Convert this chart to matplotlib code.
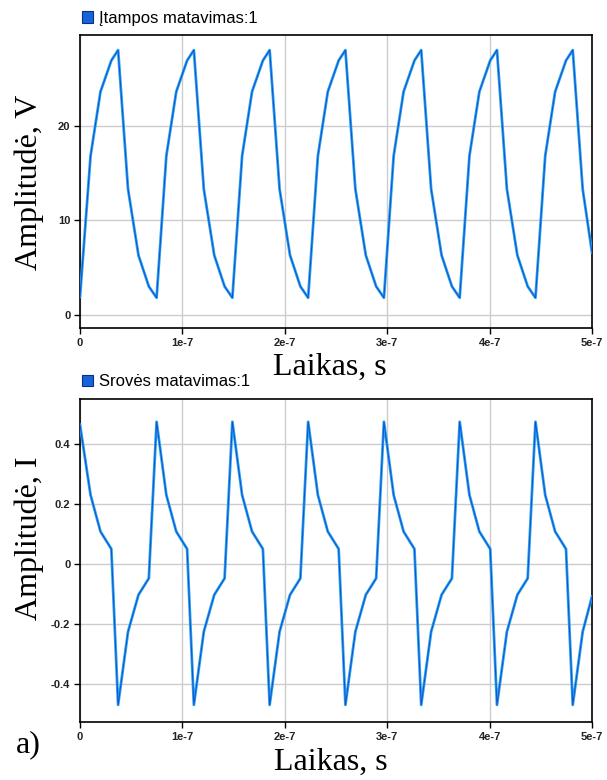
import matplotlib
matplotlib.use("Agg")
import matplotlib.pyplot as plt
from matplotlib.patches import Patch

# time samples, ns (same grid for both measurements)
time_ns = [
    0.0, 10.3, 20.0, 30.6, 37.2, 46.9, 57.1, 67.2,
    74.8, 84.3, 94.0, 104.6, 111.2, 120.9, 131.1, 141.2,
    148.8, 158.3, 168.0, 178.6, 185.2, 194.9, 205.1, 215.2,
    222.8, 232.3, 242.0, 252.6, 259.2, 268.9, 279.1, 289.2,
    296.8, 306.3, 316.0, 326.6, 333.2, 342.9, 353.1, 363.2,
    370.8, 380.3, 390.0, 400.6, 407.2, 416.9, 427.1, 437.2,
    444.8, 454.3, 464.0, 474.6, 481.2, 490.9, 500.0,
]

# voltage measurement, V
voltage = [
    1.9, 16.8, 23.6, 26.9, 28.0, 13.3, 6.3, 3.0,
    1.8, 16.8, 23.6, 26.9, 28.0, 13.3, 6.3, 3.0,
    1.8, 16.8, 23.6, 26.9, 28.0, 13.3, 6.3, 3.0,
    1.8, 16.8, 23.6, 26.9, 28.0, 13.3, 6.3, 3.0,
    1.8, 16.8, 23.6, 26.9, 28.0, 13.3, 6.3, 3.0,
    1.8, 16.8, 23.6, 26.9, 28.0, 13.3, 6.3, 3.0,
    1.8, 16.8, 23.6, 26.9, 28.0, 13.3, 6.6,
]

# current measurement, A
current = [
    0.465, 0.231, 0.109, 0.051, -0.469, -0.225, -0.102, -0.047,
    0.475, 0.231, 0.109, 0.051, -0.469, -0.225, -0.102, -0.047,
    0.475, 0.231, 0.109, 0.051, -0.469, -0.225, -0.102, -0.047,
    0.475, 0.231, 0.109, 0.051, -0.469, -0.225, -0.102, -0.047,
    0.475, 0.231, 0.109, 0.051, -0.469, -0.225, -0.102, -0.047,
    0.475, 0.231, 0.109, 0.051, -0.469, -0.225, -0.102, -0.047,
    0.475, 0.231, 0.109, 0.051, -0.469, -0.225, -0.108,
]

x_ticks = [0, 1e-7, 2e-7, 3e-7, 4e-7, 5e-7]
x_ticklabels = ["0", "1e-7", "2e-7", "3e-7", "4e-7", "5e-7"]
v_ticks = [0, 10, 20]
i_ticks = [-0.4, -0.2, 0, 0.2, 0.4]
i_ticklabels = ["-0.4", "-0.2", "0", "0.2", "0.4"]

SERIF = "Liberation Serif"
SANS = "Liberation Sans"
LIGHT = "#22a6ec"
DARK = "#1a3ccc"

time_s = [t * 1e-9 for t in time_ns]


def style_axes(ax, values, yticks, ylabels, ylim, ylabel, legend_text,
               h_px, xlab_pos, ylab_pos):
    ax.plot(time_s, values, color=LIGHT, lw=2.0, zorder=3)
    ax.plot(time_s, values, color=DARK, lw=0.7, alpha=0.85, zorder=4)
    ax.set_xlim(0, 5e-7)
    ax.set_ylim(*ylim)
    ax.set_xticks(x_ticks)
    ax.set_xticklabels(x_ticklabels)
    ax.set_yticks(yticks)
    ax.set_yticklabels(ylabels)
    ax.grid(True, color="#cccccc", lw=1.0, zorder=0)
    ax.tick_params(direction="out", length=4, width=1, labelsize=8,
                   colors="black", pad=3)
    for lab in ax.get_xticklabels() + ax.get_yticklabels():
        lab.set_family(SANS)
        lab.set_fontweight("bold")
        lab.set_color("#222222")
    for sp in ax.spines.values():
        sp.set_linewidth(1.2)
        sp.set_color("black")
    ax.set_xlabel("Laikas, s", family=SERIF, fontsize=23)
    ax.xaxis.label.set_va("center")
    ax.xaxis.set_label_coords(*xlab_pos)
    ax.set_ylabel(ylabel, family=SERIF, fontsize=23)
    ax.yaxis.label.set_va("center")
    ax.yaxis.set_label_coords(*ylab_pos)
    handle = Patch(facecolor="#1565d8", edgecolor="#0a2f8a", lw=0.8)
    ax.legend([handle], [legend_text], loc="center left",
              bbox_to_anchor=(0.003, 1 + 17 / h_px), frameon=False,
              handlelength=0.7, handleheight=0.7, handletextpad=0.35,
              borderaxespad=0, borderpad=0,
              prop={"family": SANS, "size": 12})


fig = plt.figure(figsize=(6.07, 7.8), dpi=100)
ax_v = fig.add_axes([80 / 607, (780 - 328) / 780, 512 / 607, 293 / 780])
ax_i = fig.add_axes([80 / 607, (780 - 722) / 780, 512 / 607, 323 / 780])

style_axes(ax_v, voltage, v_ticks, ["0", "10", "20"], (-1.4, 29.6),
           "Amplitudė, V", "Įtampos matavimas:1", 293,
           (0.488, (328 - 367) / 293), (-0.1, 0.498))
style_axes(ax_i, current, i_ticks, i_ticklabels, (-0.526, 0.551),
           "Amplitudė, I", "Srovės matavimas:1", 323,
           (0.49, (722 - 762) / 323), (-0.1, 0.57))

fig.text(16 / 607, 1 - 745 / 780, "a)", family=SERIF, fontsize=23,
         ha="left", va="center")

fig.savefig("out.png", dpi=100)
